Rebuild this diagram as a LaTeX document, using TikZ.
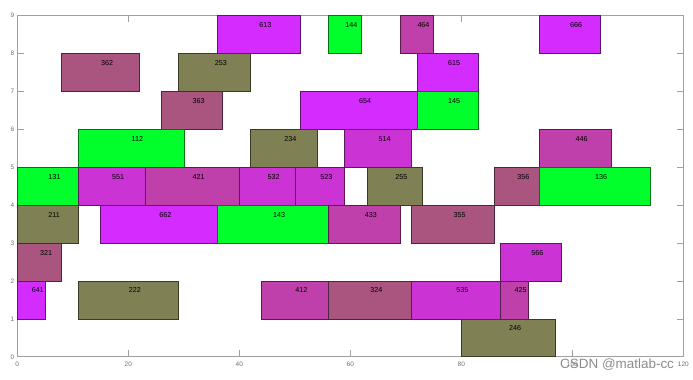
\documentclass[tikz,border=0pt]{standalone}
\usepackage{fontspec}
\setmainfont{Liberation Sans}
\definecolor{c1}{RGB}{0,255,43}
\definecolor{c2}{RGB}{128,128,85}
\definecolor{c3}{RGB}{170,85,128}
\definecolor{c4}{RGB}{191,64,170}
\definecolor{c5}{RGB}{204,51,212}
\definecolor{c6}{RGB}{212,43,255}
\definecolor{axcol}{RGB}{160,160,160}
\definecolor{ticklbl}{RGB}{110,110,110}
\tikzset{
  axline/.style={draw=axcol, line width=0.8bp},
  tickmark/.style={draw=axcol, line width=0.6bp},
  lbl/.style={anchor=west, inner sep=0.4bp, font=\fontsize{7.2}{8}\selectfont, text=black},
  ticktext/.style={inner sep=0pt, font=\fontsize{6.5}{7}\selectfont, text=ticklbl},
  boxstyle/.style={line width=0.6bp},
}
\begin{document}
\begin{tikzpicture}[x=5.55bp, y=37.9bp]
\useasboundingbox (-3.117,-0.5884) rectangle (121.748,9.414);
% axes box and ticks (drawn below the data)
\draw[axline] (0,0) rectangle (120,9);
\foreach \t in {0,20,...,120} {
  \draw[tickmark] (\t,0) -- ++(0,6.5bp);
  \draw[tickmark] (\t,9) -- ++(0,-6.5bp);
  \node[ticktext] (xt\t) at ([yshift=-7.6bp]\t,0) {\t};
}
\foreach \t in {0,...,9} {
  \draw[tickmark] (0,\t) -- ++(6.5bp,0);
  \draw[tickmark] (120,\t) -- ++(-6.5bp,0);
  \node[ticktext, anchor=east] (yt\t) at ([xshift=-2.8bp]0,\t) {\t};
}
% blocks: x1/x2/row/label/category
\foreach \a/\b/\r/\t/\k in {
  36/51/8/613/6, 56/62/8/144/1, 69/75/8/464/4, 94/105/8/666/6,
  8/22/7/362/3, 29/42/7/253/2, 72/83/7/615/6,
  26/37/6/363/3, 51/72/6/654/6, 72/83/6/145/1,
  11/30/5/112/1, 42/54/5/234/2, 59/71/5/514/5, 94/107/5/446/4,
  0/11/4/131/1, 11/23/4/551/5, 23/40/4/421/4, 40/50/4/532/5, 50/59/4/523/5,
  63/73/4/255/2, 86/94/4/356/3, 94/114/4/136/1,
  0/11/3/211/2, 15/36/3/662/6, 36/56/3/143/1, 56/69/3/433/4, 71/86/3/355/3,
  0/8/2/321/3, 87/98/2/566/5,
  0/5/1/641/6, 11/29/1/222/2, 44/56/1/412/4, 56/71/1/324/3, 71/87/1/535/5, 87/92/1/425/4,
  80/97/0/246/2} {
  \draw[boxstyle, fill=c\k, draw=c\k!45!black] (\a,\r) rectangle (\b,\r+1);
  \node[lbl] (n\t) at ({(\a+\b)/2},\r+0.75) {\t};
}
% watermark
\node[anchor=west, inner sep=0pt, text=black!45, font=\fontsize{13.5}{14}\selectfont] (wm) at (97.78,-0.193) {CSDN @matlab-cc};
\end{tikzpicture}
\end{document}
